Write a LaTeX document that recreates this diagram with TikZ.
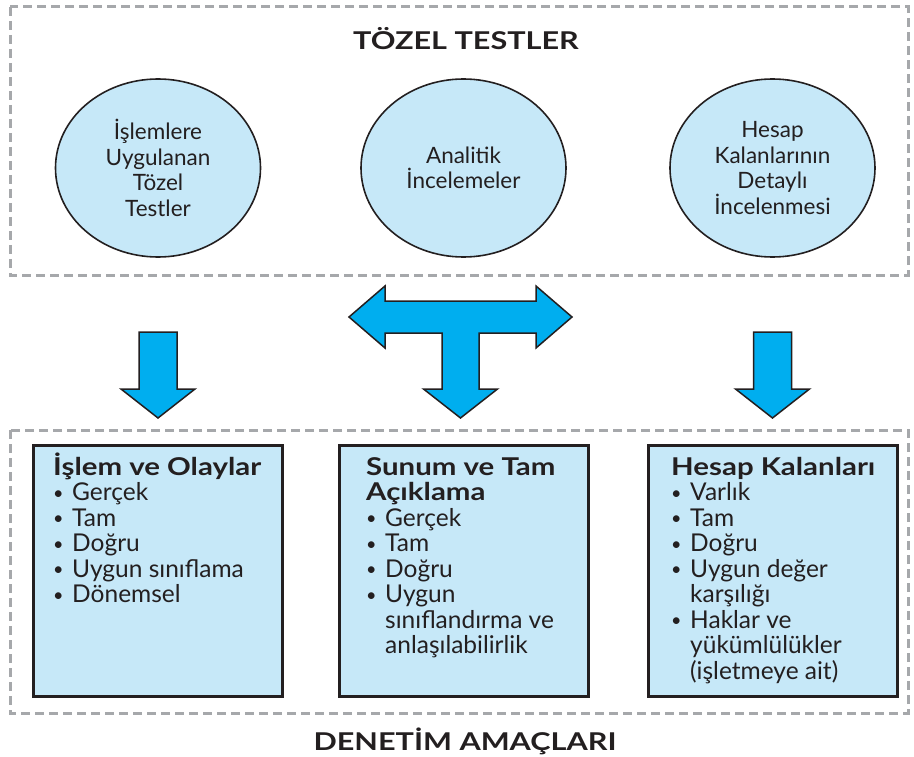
\documentclass[tikz,border=0pt]{standalone}
\usepackage{fontspec}
\setmainfont{Lato}[BoldFeatures={FakeStretch=1.2}]
\newfontfamily\headfont{Lato}[FakeStretch=1.25]
\usetikzlibrary{shapes.geometric}
\definecolor{paleblue}{HTML}{C6E8F8}
\definecolor{arrowblue}{HTML}{00AEEF}
\definecolor{framegray}{HTML}{A6A8AB}
\definecolor{inkdark}{HTML}{231F20}
\newcommand{\itm}[1]{\makebox[19pt][l]{\raisebox{1.5pt}{\fontsize{18}{18}\selectfont\textbullet}}#1}
\newcommand{\cnt}[1]{\hspace*{19pt}#1}

\begin{document}
\begin{tikzpicture}[x=1pt,y=-1pt,
    frame/.style={draw=framegray, line width=3pt, dash pattern=on 9pt off 5pt},
    testellipse/.style={ellipse, draw=inkdark, line width=1.6pt, fill=paleblue,
      minimum width=205pt, minimum height=178pt, inner sep=0pt, align=center,
      text=inkdark, font=\fontsize{22.5}{25.5}\selectfont},
    goalbox/.style={draw=inkdark, line width=3pt, fill=paleblue,
      minimum width=249pt, minimum height=251pt, inner sep=0pt},
    goaltext/.style={anchor=base west, align=left, inner sep=0pt, text=inkdark,
      font=\fontsize{24.5}{25.5}\selectfont},
    grouptitle/.style={anchor=base, text=inkdark, font=\headfont\bfseries\fontsize{24.5}{28}\selectfont},
    blockarrow/.style={draw=inkdark, line width=1.5pt, fill=arrowblue, line join=miter}]
  \useasboundingbox (0,0) rectangle (914,757);

  % top group: substantive tests
  \draw[frame] (10,7) rectangle (908,275);
  \node[grouptitle] (tozel) at (466,50) {TÖZEL TESTLER};
  \node[testellipse] (islemtest) at (158,168) {İşlemlere\\Uygulanan\\Tözel\\Testler};
  \node[testellipse] (analitik) at (463.5,168) {Analitik\\İncelemeler};
  \node[testellipse] (kalantest) at (772.5,168) {Hesap\\Kalanlarının\\Detaylı\\İncelenmesi};

  % block arrows
  \foreach \cx in {158,772.5}
    \draw[blockarrow] (\cx-19,332) -- (\cx+19,332) -- (\cx+19,389) -- (\cx+37,389)
      -- (\cx,418) -- (\cx-37,389) -- (\cx-19,389) -- cycle;
  \draw[blockarrow] (349,317) -- (385,286) -- (385,301) -- (536,301) -- (536,286)
    -- (572,317) -- (536,348) -- (536,333) -- (479,333) -- (479,389) -- (497.5,389)
    -- (460.5,418) -- (423.5,389) -- (442,389) -- (442,333) -- (385,333) -- (385,348) -- cycle;

  % bottom group: audit objectives (text nodes sit on their last baseline)
  \draw[frame] (10,430) rectangle (908,713);
  \node[goalbox] (olaybox) at (158,571) {};
  \node[goalbox] (sunumbox) at (463.5,571) {};
  \node[goalbox] (kalanbox) at (772.5,571) {};
  \node[goaltext] (olaytext) at (53,602.5) {{\bfseries İşlem ve Olaylar}\\
    \itm{Gerçek}\\ \itm{Tam}\\ \itm{Doğru}\\ \itm{Uygun sınıflama}\\ \itm{Dönemsel}};
  \node[goaltext] (sunumtext) at (366,653.5) {{\bfseries Sunum ve Tam}\\ {\bfseries Açıklama}\\
    \itm{Gerçek}\\ \itm{Tam}\\ \itm{Doğru}\\ \itm{Uygun}\\ \cnt{sınıflandırma ve}\\ \cnt{anlaşılabilirlik}};
  \node[goaltext] (kalantext) at (671,679) {{\bfseries Hesap Kalanları}\\
    \itm{Varlık}\\ \itm{Tam}\\ \itm{Doğru}\\ \itm{Uygun değer}\\ \cnt{karşılığı}\\
    \itm{Haklar ve}\\ \cnt{yükümlülükler}\\ \cnt{(işletmeye ait)}};
  \node[grouptitle] (denetim) at (465,750) {DENETİM AMAÇLARI};
\end{tikzpicture}
\end{document}
